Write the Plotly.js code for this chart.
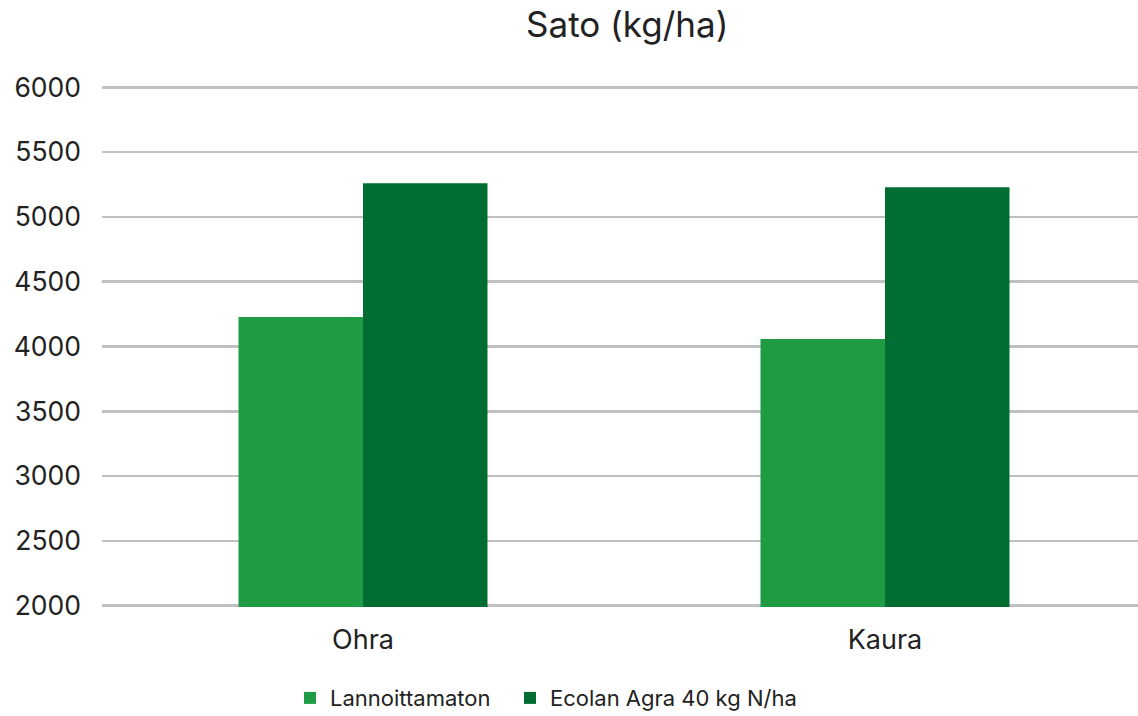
<!DOCTYPE html>
<html>
<head>
<meta charset="utf-8">
<script src="https://cdn.plot.ly/plotly-3.0.1.min.js"></script>
<style>html,body{margin:0;padding:0;background:#fff;}#chart{width:1138px;height:716px;}</style>
</head>
<body>
<div id="chart"></div>
<script>
const categories = ["Ohra", "Kaura"];
const seriesNames = ["Lannoittamaton", "Ecolan Agra 40 kg N/ha"];
const lannoittamaton = [4228, 4058];
const ecolan = [5260, 5229];
const yTicks = [2000, 2500, 3000, 3500, 4000, 4500, 5000, 5500, 6000];

const FONT = "Inter, 'Noto Sans', sans-serif";
const traces = [
  {type: "bar", name: seriesNames[0], x: categories, y: lannoittamaton,
   marker: {color: "#1e9b43"}, hoverinfo: "y", legend: "legend"},
  {type: "bar", name: seriesNames[1], x: categories, y: ecolan,
   marker: {color: "#006e32"}, hoverinfo: "y", legend: "legend2"}
];
const legendBase = {orientation: "h", xref: "container", xanchor: "left", yref: "container",
  y: 0.025, yanchor: "middle", font: {family: FONT, size: 22, color: "#222"},
  itemwidth: 30, bgcolor: "rgba(0,0,0,0)", borderwidth: 0};
const layout = {
  width: 1138, height: 716,
  margin: {l: 102, r: 0, t: 85.7, b: 109.2, pad: 0, autoexpand: false},
  paper_bgcolor: "#fff", plot_bgcolor: "#fff",
  font: {family: FONT, color: "#222", size: 24},
  title: {text: "Sato (kg/ha)", font: {family: FONT, size: 35, color: "#222"},
          x: 0.507, xanchor: "center", xref: "paper", y: 0.966, yanchor: "middle"},
  barmode: "group", bargap: 0.523, bargroupgap: 0,
  xaxis: {type: "category", range: [-0.5, 1.4847], showgrid: false, showline: false,
          ticks: "", tickfont: {family: FONT, size: 27, color: "#222"}, ticklabelstandoff: 14,
          fixedrange: true},
  yaxis: {range: [1990, 6010], tickvals: yTicks, ticktext: yTicks.map(String),
          showgrid: true, gridcolor: "#c0bfc4", gridwidth: 2.5, zeroline: false,
          showline: false, ticks: "", ticklabelstandoff: 20,
          tickfont: {family: FONT, size: 26.5, color: "#222"}, fixedrange: true},
  showlegend: true,
  legend: Object.assign({}, legendBase, {x: 290 / 1138}),
  legend2: Object.assign({}, legendBase, {x: 510 / 1138})
};
Plotly.newPlot("chart", traces, layout, {displayModeBar: false, staticPlot: true});
</script>
</body>
</html>
